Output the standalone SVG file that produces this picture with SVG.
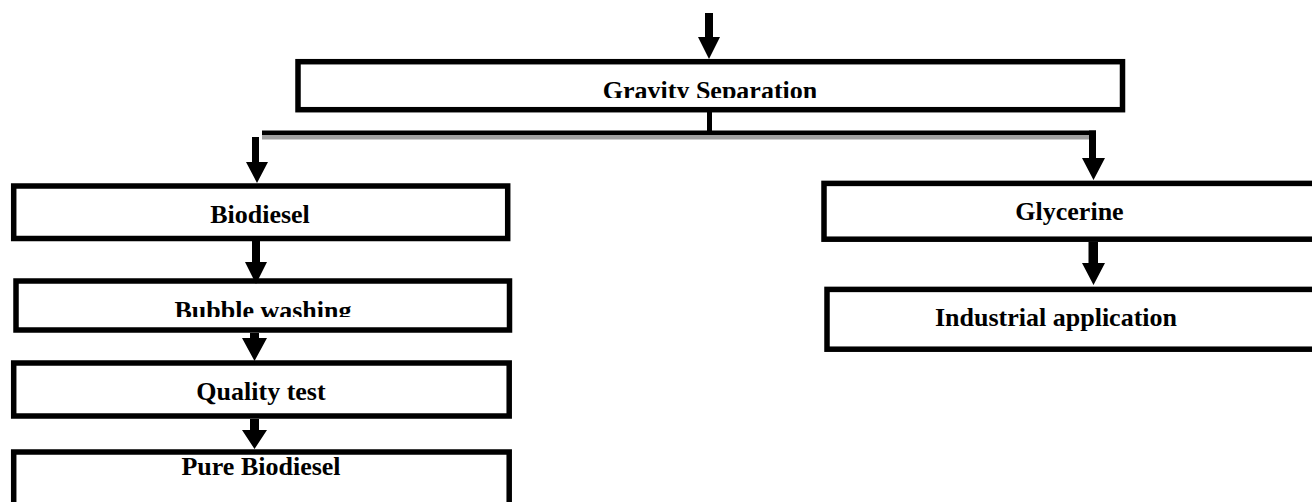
<svg xmlns="http://www.w3.org/2000/svg" width="1312" height="502" viewBox="0 0 1312 502">
  <defs>
    <style>
      .box { fill: #ffffff; stroke: #000000; stroke-width: 5.5; }
      .lbl { font-family: "Liberation Serif", "Times New Roman", serif; font-weight: bold; font-size: 26px; fill: #000000; text-anchor: middle; }
      .con { fill: #000000; stroke: none; }
      .shadow { fill: #a0a0a0; stroke: none; }
    </style>
    <clipPath id="clipGravity"><rect x="290" y="60" width="840" height="38"/></clipPath>
    <clipPath id="clipBubble"><rect x="10" y="280" width="505" height="37"/></clipPath>
  </defs>
  <rect x="0" y="0" width="1312" height="502" fill="#ffffff"/>

  <g id="node-gravity">
    <rect class="box" x="298" y="61.7" width="824.5" height="48"/>
    <text class="lbl" x="710" y="99" clip-path="url(#clipGravity)">Gravity Separation</text>
  </g>
  <g id="node-biodiesel">
    <rect class="box" x="13.7" y="186" width="494" height="52.5"/>
    <text class="lbl" x="260" y="222.5">Biodiesel</text>
  </g>
  <g id="node-bubble">
    <rect class="box" x="16" y="281" width="493.5" height="49"/>
    <text class="lbl" x="263" y="319" clip-path="url(#clipBubble)">Bubble washing</text>
  </g>
  <g id="node-quality">
    <rect class="box" x="13.7" y="363" width="495.5" height="53"/>
    <text class="lbl" x="261" y="399.5">Quality test</text>
  </g>
  <g id="node-pure">
    <rect class="box" x="13.7" y="452" width="495.5" height="70"/>
    <text class="lbl" x="261" y="474.5">Pure Biodiesel</text>
  </g>
  <g id="node-glycerine">
    <rect class="box" x="824" y="183.4" width="500" height="55.8"/>
    <text class="lbl" x="1069.5" y="220">Glycerine</text>
  </g>
  <g id="node-industrial">
    <rect class="box" x="827" y="289.4" width="500" height="59.8"/>
    <text class="lbl" x="1056" y="326">Industrial application</text>
  </g>

  <g id="connectors">
    <path class="con" d="M705,13 H713 V37 H720 L709,59 L698,37 H705 Z"/>
    <rect class="con" x="707" y="112" width="5" height="20"/>
    <rect class="shadow" x="262" y="135" width="827" height="4.5"/>
    <rect class="con" x="262" y="130.5" width="834" height="4.5"/>
    <path class="con" d="M1089,130.5 H1096 V158 H1105 L1093.5,180 L1082,158 H1089 Z"/>
    <path class="con" d="M252,137 H259 V162 H268 L257,183 L246,162 H252 Z"/>
    <path class="con" d="M252,241 H260 V262 H267 L256,284 L245,262 H252 Z"/>
    <path class="con" d="M250,333 H259 V338 H267 L254.5,361 L242,338 H250 Z"/>
    <path class="con" d="M250,419 H259 V430 H267 L254.5,449 L242,430 H250 Z"/>
    <path class="con" d="M1088.5,242 H1098 V263 H1105 L1093.5,285 L1082,263 H1088.5 Z"/>
  </g>
</svg>
